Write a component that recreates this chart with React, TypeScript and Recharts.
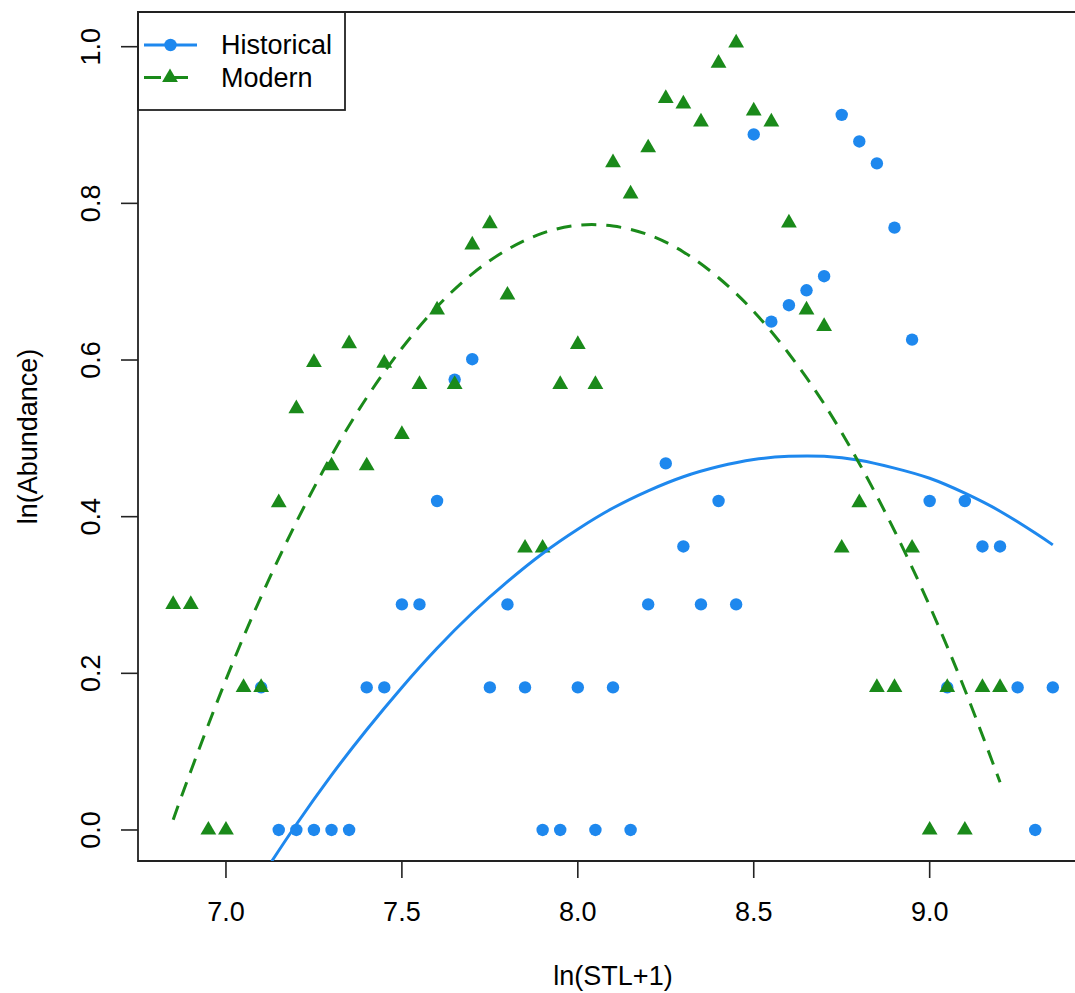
import { ScatterChart, Scatter, XAxis, YAxis, ReferenceArea } from 'recharts';

// ln(STL+1) / ln(Abundance) readings
const histX = [7.1, 7.15, 7.2, 7.25, 7.3, 7.35, 7.4, 7.45, 7.5, 7.55, 7.6, 7.65, 7.7, 7.75, 7.8, 7.85, 7.9, 7.95, 8.0, 8.05, 8.1, 8.15, 8.2, 8.25, 8.3, 8.35, 8.4, 8.45, 8.5, 8.55, 8.6, 8.65, 8.7, 8.75, 8.8, 8.85, 8.9, 8.95, 9.0, 9.05, 9.1, 9.15, 9.2, 9.25, 9.3, 9.35];
const histY = [0.182, 0, 0, 0, 0, 0, 0.182, 0.182, 0.288, 0.288, 0.42, 0.575, 0.601, 0.182, 0.288, 0.182, 0, 0, 0.182, 0, 0.182, 0, 0.288, 0.468, 0.362, 0.288, 0.42, 0.288, 0.888, 0.649, 0.67, 0.689, 0.707, 0.913, 0.879, 0.851, 0.769, 0.626, 0.42, 0.182, 0.42, 0.362, 0.362, 0.182, 0, 0.182];

const modX = [6.85, 6.9, 6.95, 7.0, 7.05, 7.1, 7.15, 7.2, 7.25, 7.3, 7.35, 7.4, 7.45, 7.5, 7.55, 7.6, 7.65, 7.7, 7.75, 7.8, 7.85, 7.9, 7.95, 8.0, 8.05, 8.1, 8.15, 8.2, 8.25, 8.3, 8.35, 8.4, 8.45, 8.5, 8.55, 8.6, 8.65, 8.7, 8.75, 8.8, 8.85, 8.9, 8.95, 9.0, 9.05, 9.1, 9.15, 9.2];
const modY = [0.288, 0.288, 0, 0, 0.182, 0.182, 0.418, 0.538, 0.597, 0.465, 0.621, 0.465, 0.596, 0.505, 0.569, 0.664, 0.569, 0.747, 0.774, 0.683, 0.36, 0.36, 0.569, 0.62, 0.569, 0.852, 0.812, 0.871, 0.934, 0.927, 0.904, 0.979, 1.005, 0.918, 0.904, 0.775, 0.664, 0.643, 0.36, 0.418, 0.182, 0.182, 0.36, 0, 0.182, 0, 0.182, 0.182];

// fitted curves
const histFitX = [7.13, 7.2, 7.3, 7.4, 7.5, 7.6, 7.7, 7.8, 7.9, 8.0, 8.1, 8.2, 8.3, 8.4, 8.5, 8.6, 8.7, 8.8, 8.9, 9.0, 9.1, 9.2, 9.3, 9.35];
const histFitY = [-0.04, 0.007, 0.07, 0.128, 0.182, 0.232, 0.277, 0.317, 0.353, 0.384, 0.411, 0.433, 0.451, 0.464, 0.473, 0.477, 0.477, 0.472, 0.462, 0.449, 0.43, 0.407, 0.379, 0.364];
const modFitX = [6.85, 6.9, 7.0, 7.1, 7.2, 7.3, 7.4, 7.5, 7.6, 7.7, 7.8, 7.9, 8.0, 8.1, 8.2, 8.3, 8.4, 8.5, 8.6, 8.7, 8.8, 8.9, 9.0, 9.1, 9.2];
const modFitY = [0.013, 0.075, 0.192, 0.298, 0.393, 0.478, 0.552, 0.615, 0.668, 0.71, 0.741, 0.762, 0.772, 0.771, 0.76, 0.738, 0.705, 0.662, 0.608, 0.544, 0.468, 0.382, 0.286, 0.179, 0.061];

const xTicks = [7.0, 7.5, 8.0, 8.5, 9.0];
const yTicks = [0, 0.2, 0.4, 0.6, 0.8, 1.0];

const BLUE = '#1E88EE';
const GREEN = '#1A8A1A';
const FONT = '"Liberation Sans", Arial, Helvetica, sans-serif';

const zip = (xs: number[], ys: number[]) => xs.map((x, i) => ({ x, y: ys[i] }));
const histData = zip(histX, histY);
const modData = zip(modX, modY);
const histFit = zip(histFitX, histFitY);
const modFit = zip(modFitX, modFitY);

const Dot = (p: any) => <circle cx={p.cx} cy={p.cy} r={6.2} fill={BLUE} />;
const Tri = (p: any) => (
  <polygon
    points={`${p.cx},${p.cy - 9.1} ${p.cx + 7.9},${p.cy + 4.6} ${p.cx - 7.9},${p.cy + 4.6}`}
    fill={GREEN}
  />
);
const Nothing = () => <g />;

const XTick = (p: any) => (
  <text x={p.x} y={921} textAnchor="middle" fontSize={27} fontFamily={FONT} fill="#000">
    {p.payload.value.toFixed(1)}
  </text>
);
const YTick = (p: any) => (
  <text x={100} y={p.y} textAnchor="middle" fontSize={27} fontFamily={FONT} fill="#000" transform={`rotate(-90, 100, ${p.y})`}>
    {p.payload.value.toFixed(1)}
  </text>
);

export default function App() {
  return (
    <div style={{ position: 'absolute', left: 0, top: 0, width: 1075, height: 993, overflow: 'hidden', background: '#fff' }}>
      <ScatterChart width={1100} height={993} margin={{ top: 12, right: 12, bottom: 0, left: 0 }}>
        <XAxis
          type="number"
          dataKey="x"
          domain={[6.75, 9.45]}
          allowDataOverflow
          ticks={xTicks}
          tickSize={17}
          height={132}
          axisLine={false}
          tickLine={{ stroke: '#222', strokeWidth: 1.6 }}
          tick={<XTick />}
          label={({ viewBox }: any) => (
            <text x={viewBox.x + viewBox.width / 2} y={985} textAnchor="middle" fontSize={27} fontFamily={FONT} fill="#000">
              ln(STL+1)
            </text>
          )}
        />
        <YAxis
          type="number"
          dataKey="y"
          domain={[-0.0396, 1.0443]}
          allowDataOverflow
          ticks={yTicks}
          tickSize={17}
          width={138}
          axisLine={false}
          tickLine={{ stroke: '#222', strokeWidth: 1.6 }}
          tick={<YTick />}
          label={({ viewBox }: any) => {
            const cy = viewBox.y + viewBox.height / 2;
            return (
              <text x={36.5} y={cy} textAnchor="middle" fontSize={27} fontFamily={FONT} fill="#000" transform={`rotate(-90, 36.5, ${cy})`}>
                ln(Abundance)
              </text>
            );
          }}
        />
        <ReferenceArea x1={6.75} x2={9.45} y1={-0.0396} y2={1.0443} fill="none" stroke="#222" strokeWidth={1.8} fillOpacity={0} />
        <Scatter data={histData} shape={Dot} isAnimationActive={false} />
        <Scatter data={modData} shape={Tri} isAnimationActive={false} />
        <Scatter
          data={histFit}
          fill={BLUE}
          shape={Nothing}
          line={{ stroke: BLUE, strokeWidth: 3 }}
          lineJointType="natural"
          isAnimationActive={false}
        />
        <Scatter
          data={modFit}
          fill={GREEN}
          shape={Nothing}
          line={{ stroke: GREEN, strokeWidth: 3, strokeDasharray: '15 10' }}
          lineJointType="natural"
          isAnimationActive={false}
        />
      </ScatterChart>
      <svg width={1075} height={993} style={{ position: 'absolute', left: 0, top: 0, pointerEvents: 'none' }}>
        <rect x={138} y={12} width={207} height={98} fill="none" stroke="#222" strokeWidth={1.8} />
        <line x1={144} x2={197} y1={45} y2={45} stroke={BLUE} strokeWidth={3} />
        <circle cx={170.5} cy={45} r={6.2} fill={BLUE} />
        <text x={221} y={54.3} fontSize={27} fontFamily={FONT} fill="#000">Historical</text>
        <line x1={144} x2={188} y1={77.5} y2={77.5} stroke={GREEN} strokeWidth={3} strokeDasharray="17 10" />
        <polygon points={`170,${77.5 - 9.1} ${170 + 7.9},${77.5 + 4.6} ${170 - 7.9},${77.5 + 4.6}`} fill={GREEN} />
        <text x={221} y={87.3} fontSize={27} fontFamily={FONT} fill="#000">Modern</text>
      </svg>
    </div>
  );
}
